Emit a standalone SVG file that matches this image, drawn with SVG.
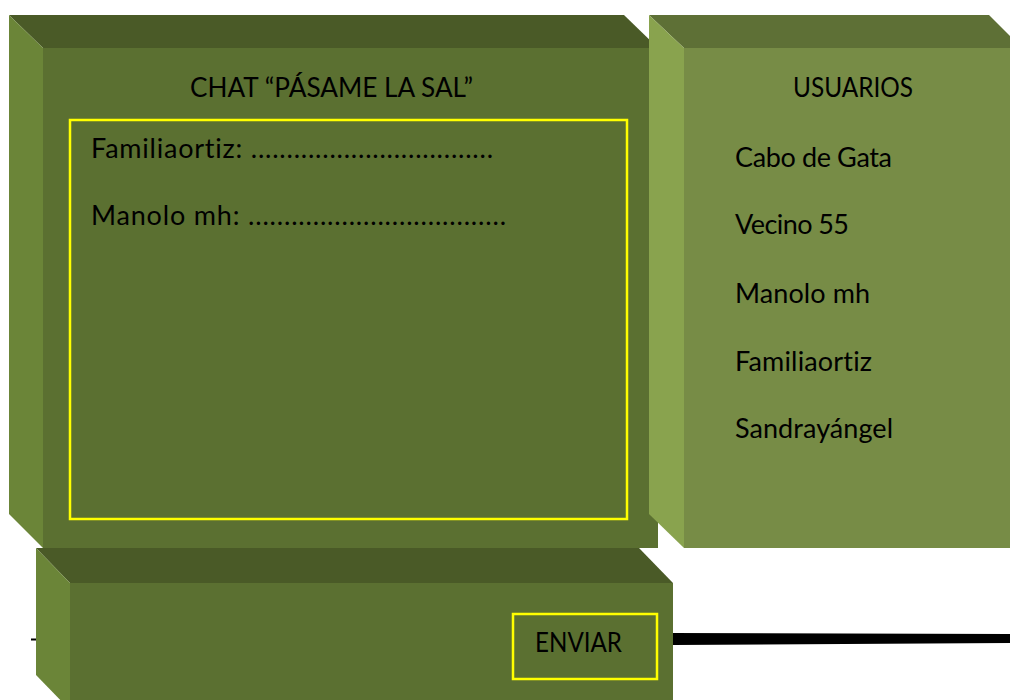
<svg xmlns="http://www.w3.org/2000/svg" width="1010" height="700" viewBox="0 0 1010 700">
<style>
  text { font-family: Lato, "Liberation Sans", Arial, sans-serif; font-size: 27px; fill: #000; font-variant-ligatures: none; }
  .dTop { fill: #4A5A27; }
  .dFront { fill: #5B7031; }
  .dLeft { fill: #6B8538; }
  .lTop { fill: #5E7036; }
  .lFront { fill: #778C46; }
  .lLeft { fill: #89A34E; }
  .frame { fill: none; stroke: #FFFF00; stroke-width: 2.5; }
</style>
<rect width="1010" height="700" fill="#FFFFFF"/>

<g id="chat">
  <rect class="dFront" x="43" y="48" width="615" height="500"/>
  <polygon class="dTop" points="9,15 624,15 658,48 43,48"/>
  <polygon class="dLeft" points="9,15 43,48 43,548 9,514"/>
  <rect class="frame" x="70" y="120" width="557" height="399"/>
  <text x="331.5" y="97" text-anchor="middle" textLength="283" lengthAdjust="spacingAndGlyphs">CHAT “PÁSAME LA SAL”</text>
  <text x="91" y="158" textLength="402">Familiaortiz: ..................................</text>
  <text x="91" y="225" textLength="415">Manolo mh: ....................................</text>
</g>

<g id="usuarios">
  <rect class="lFront" x="684" y="48" width="340" height="500"/>
  <polygon class="lTop" points="649,15 989,15 1022,48 684,48"/>
  <polygon class="lLeft" points="649,15 684,48 684,548 649,514"/>
  <text x="853" y="97" text-anchor="middle" textLength="120" lengthAdjust="spacingAndGlyphs">USUARIOS</text>
  <text x="735" y="167" textLength="157">Cabo de Gata</text>
  <text x="735" y="234" textLength="114">Vecino 55</text>
  <text x="735" y="303" textLength="135">Manolo mh</text>
  <text x="735" y="371" textLength="137">Familiaortiz</text>
  <text x="735" y="438" textLength="158">Sandrayángel</text>
</g>

<g id="connectors">
  <rect x="31" y="638.5" width="6" height="2" fill="#000"/>
  <polygon points="673,633 1010,634 1010,643 673,645" fill="#000"/>
</g>

<g id="enviar">
  <rect class="dFront" x="70" y="583" width="603" height="130"/>
  <polygon class="dTop" points="36,548 639,548 673,583 70,583"/>
  <polygon class="dLeft" points="36,548 70,583 70,710 36,675"/>
  <rect class="frame" x="513" y="614" width="144" height="65"/>
  <text x="535" y="652" textLength="87" lengthAdjust="spacingAndGlyphs">ENVIAR</text>
</g>
</svg>
